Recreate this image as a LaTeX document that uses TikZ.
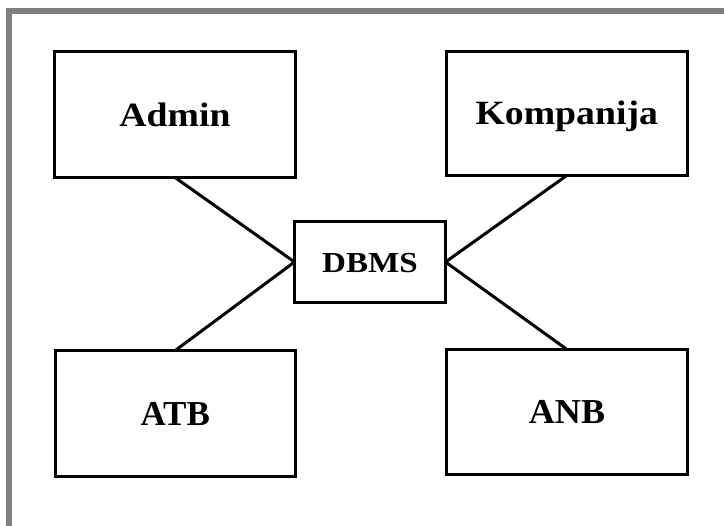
\documentclass[tikz,border=0pt]{standalone}
\usepackage{fontspec}
\setmainfont{Liberation Serif}
\newfontfamily\widea[FakeStretch=1.11]{Liberation Serif}
\newfontfamily\wideb[FakeStretch=1.14]{Liberation Serif}
\newfontfamily\widec[FakeStretch=1.03]{Liberation Serif}
\begin{document}
\begin{tikzpicture}[x=1pt,y=-1pt,
  box/.style={draw=black,line width=3pt,fill=white,inner sep=0pt,outer sep=0pt,
    text height=24pt,text depth=0pt,font=\fontsize{35}{40}\selectfont\bfseries},
  link/.style={line width=3pt,draw=black}]
\useasboundingbox (0,0) rectangle (724,526);
\fill[white] (0,0) rectangle (724,526);
\fill[black!50] (6,8) rectangle (724,14);
\fill[black!50] (6,8) rectangle (12,526);
\node[box,minimum width=241pt,minimum height=125.5pt,font=\fontsize{34}{40}\widea\bfseries] (admin) at (175,114.75) {Admin};
\node[box,minimum width=240.5pt,minimum height=124pt,font=\fontsize{34}{40}\widea\bfseries,text height=23pt] (komp) at (566.75,113.5) {Kompanija};
\node[box,minimum width=240.5pt,minimum height=126pt,text height=25pt] (atb) at (175.25,413.5) {ATB};
\node[box,minimum width=241pt,minimum height=125pt,font=\fontsize{35}{40}\widec\bfseries] (anb) at (567,412) {ANB};
\node[box,minimum width=151pt,minimum height=80.5pt,text height=21pt,font=\fontsize{29}{34}\wideb\bfseries] (dbms) at (370,262) {DBMS};
\draw[link] (admin.south) -- (dbms.west);
\draw[link] (atb.north) -- (dbms.west);
\draw[link] (komp.south) -- (dbms.east);
\draw[link] (anb.north) -- (dbms.east);
\end{tikzpicture}
\end{document}
